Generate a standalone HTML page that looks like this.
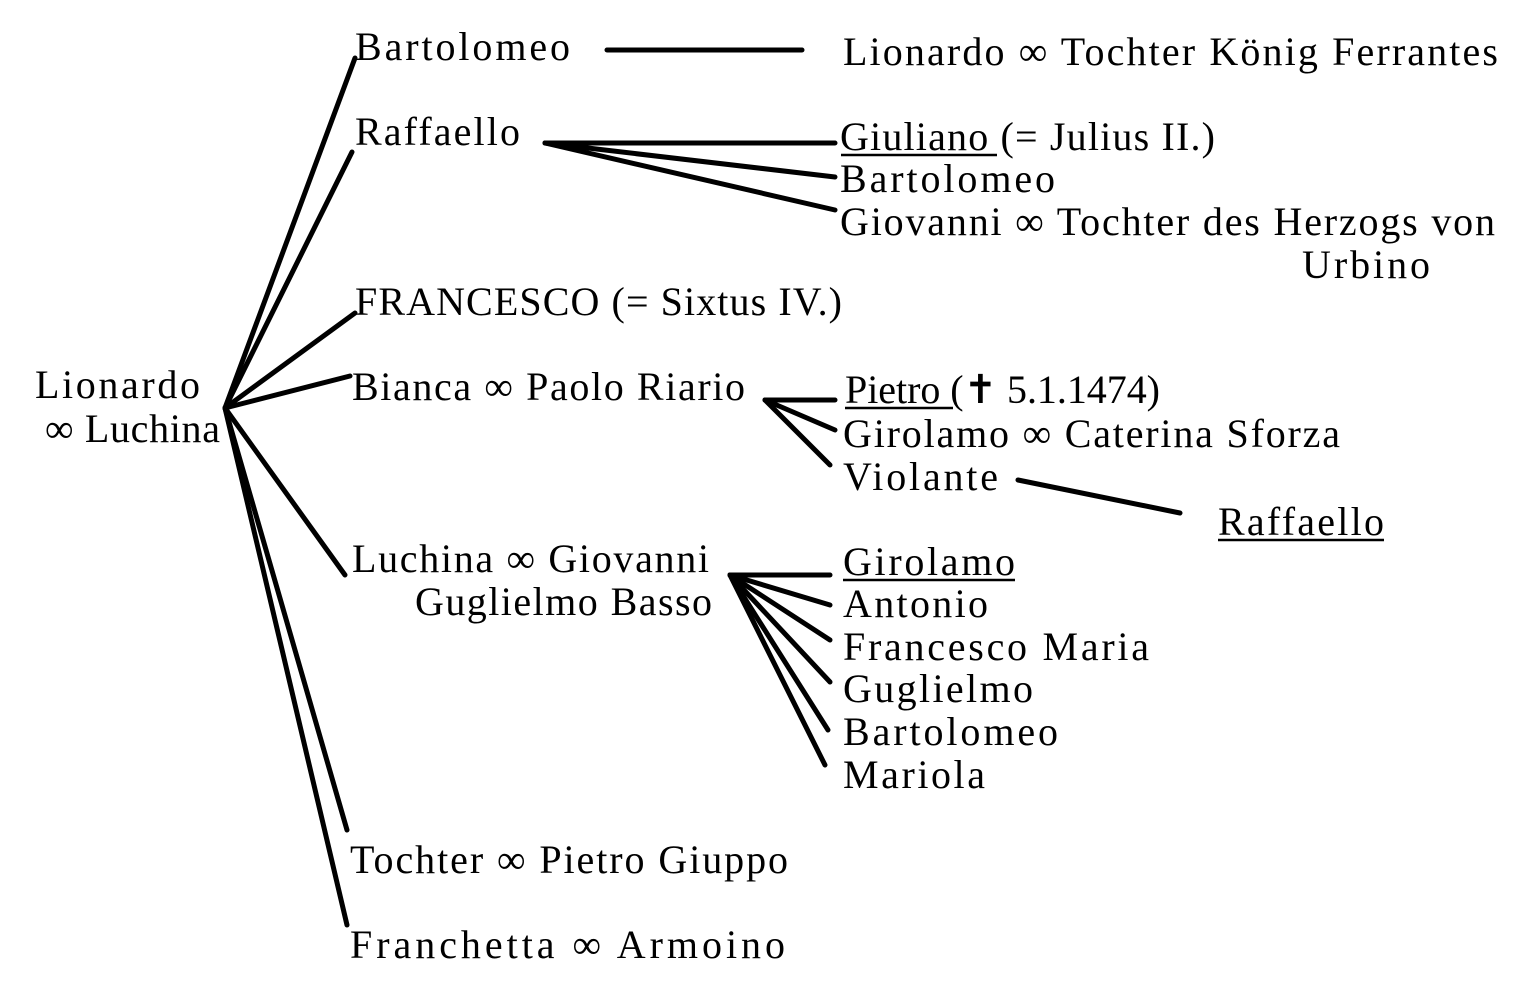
<!DOCTYPE html>
<html><head><meta charset="utf-8"><style>
html,body{margin:0;padding:0;background:#fff;}
svg{display:block;}
text{font-family:"Liberation Serif",serif;font-size:40px;fill:#000;}
</style></head><body>
<svg width="1535" height="1006" viewBox="0 0 1535 1006" xmlns="http://www.w3.org/2000/svg">
<g stroke="#000" stroke-width="5" stroke-linecap="round" fill="none">
<line x1="225" y1="408" x2="355" y2="58"/>
<line x1="225" y1="408" x2="352" y2="152"/>
<line x1="225" y1="408" x2="355" y2="313"/>
<line x1="225" y1="408" x2="350" y2="376"/>
<line x1="225" y1="408" x2="345" y2="575"/>
<line x1="225" y1="408" x2="347" y2="830"/>
<line x1="225" y1="408" x2="347" y2="925"/>
<line x1="607" y1="50" x2="802" y2="50"/>
<line x1="545" y1="143" x2="835" y2="143"/>
<line x1="545" y1="143" x2="835" y2="177"/>
<line x1="545" y1="143" x2="835" y2="210"/>
<line x1="765" y1="400" x2="835" y2="400"/>
<line x1="765" y1="400" x2="835" y2="430"/>
<line x1="765" y1="400" x2="830" y2="465"/>
<line x1="1018" y1="480" x2="1180" y2="513"/>
<line x1="730" y1="575" x2="830" y2="575"/>
<line x1="730" y1="575" x2="830" y2="605"/>
<line x1="730" y1="575" x2="830" y2="640"/>
<line x1="730" y1="575" x2="830" y2="682"/>
<line x1="730" y1="575" x2="828" y2="730"/>
<line x1="730" y1="575" x2="825" y2="765"/>
</g>
<g stroke="#000" stroke-width="2.5">
<line x1="841" y1="155" x2="997" y2="155"/>
<line x1="845" y1="408" x2="953" y2="408"/>
<line x1="1218" y1="540" x2="1384" y2="540"/>
<line x1="843" y1="580" x2="1015" y2="580"/>
</g>
<text x="355" y="60" textLength="215">Bartolomeo</text>
<text x="843" y="65" textLength="655">Lionardo ∞ Tochter König Ferrantes</text>
<text x="355" y="145" textLength="165">Raffaello</text>
<text x="840" y="150" textLength="375">Giuliano (= Julius II.)</text>
<text x="840" y="192" textLength="215">Bartolomeo</text>
<text x="840" y="235" textLength="655">Giovanni ∞ Tochter des Herzogs von</text>
<text x="1302" y="278" textLength="128">Urbino</text>
<text x="355" y="315" textLength="487">FRANCESCO (= Sixtus IV.)</text>
<text x="35" y="398" textLength="165">Lionardo</text>
<text x="45" y="442" textLength="175">∞ Luchina</text>
<text x="352" y="400" textLength="393">Bianca ∞ Paolo Riario</text>
<text x="845" y="403" textLength="315">Pietro (✝ 5.1.1474)</text>
<text x="843" y="447" textLength="497">Girolamo ∞ Caterina Sforza</text>
<text x="843" y="490" textLength="155">Violante</text>
<text x="1218" y="535" textLength="166">Raffaello</text>
<text x="352" y="572" textLength="357">Luchina ∞ Giovanni</text>
<text x="415" y="615" textLength="297">Guglielmo Basso</text>
<text x="843" y="575" textLength="172">Girolamo</text>
<text x="843" y="617" textLength="145">Antonio</text>
<text x="843" y="660" textLength="306">Francesco Maria</text>
<text x="843" y="702" textLength="190">Guglielmo</text>
<text x="843" y="745" textLength="215">Bartolomeo</text>
<text x="843" y="788" textLength="142">Mariola</text>
<text x="350" y="873" textLength="438">Tochter ∞ Pietro Giuppo</text>
<text x="350" y="958" textLength="435">Franchetta ∞ Armoino</text>
</svg>
</body></html>
